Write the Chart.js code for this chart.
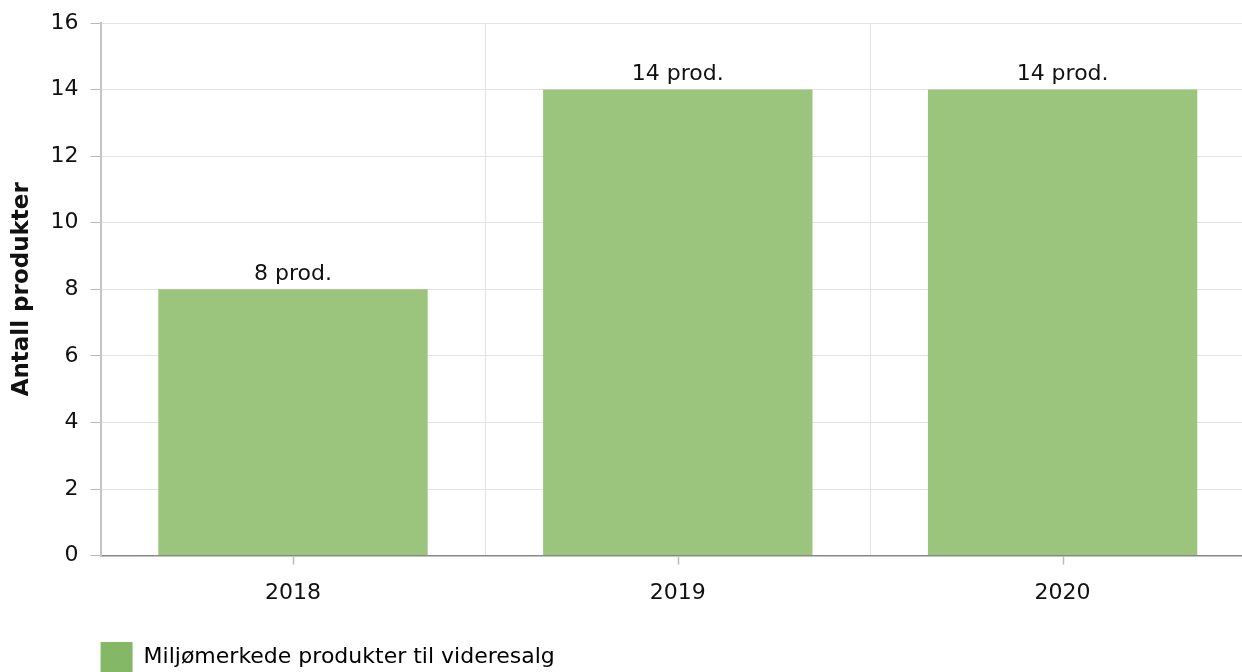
<!DOCTYPE html>
<html>
<head>
<meta charset="utf-8">
<script src="https://cdn.jsdelivr.net/npm/chart.js@4"></script>
<style>
  html, body { margin: 0; padding: 0; background: #fff; overflow: hidden; }
  #wrap { width: 1255px; height: 672px; }
</style>
</head>
<body>
<div id="wrap"><canvas id="barchart"></canvas></div>
<script>
var years = ['2018', '2019', '2020'];
var products = [8, 14, 14];
var valueLabels = ['8 prod.', '14 prod.', '14 prod.'];
var yTicks = [0, 2, 4, 6, 8, 10, 12, 14, 16];

var font = "Verdana, 'DejaVu Sans', sans-serif";
var legendPad = 12;

// labels above bars + small center ticks on the x axis
var extras = {
    id: 'extras',
    afterLayout: function(chart) {
        // legend starts under the y axis line
        var lg = chart.legend;
        var shift = chart.chartArea.left - lg.left - legendPad;
        lg.left += shift;
        lg.width -= shift;
    },
    afterDatasetsDraw: function(chart) {
        var ctx = chart.ctx;
        var meta = chart.getDatasetMeta(0);
        ctx.save();
        ctx.font = '22px ' + font;
        ctx.fillStyle = '#111';
        ctx.textAlign = 'center';
        ctx.textBaseline = 'bottom';
        meta.data.forEach(function(bar, i) {
            ctx.fillText(valueLabels[i], bar.x, bar.y - 4);
        });
        var x = chart.scales.x;
        var bottom = chart.chartArea.bottom;
        ctx.strokeStyle = '#bbb';
        ctx.lineWidth = 1.5;
        years.forEach(function(y, i) {
            var px = Math.round(x.getPixelForValue(i)) + 0.5;
            ctx.beginPath();
            ctx.moveTo(px, bottom + 1);
            ctx.lineTo(px, bottom + 9);
            ctx.stroke();
        });
        ctx.restore();
    }
};

var myChart = new Chart(document.getElementById('barchart'), {
type: 'bar',
data: {
    labels: years,
    datasets: [{
        label: 'Miljømerkede produkter til videresalg',
        data: products,
        backgroundColor: '#9bc47d',
        borderWidth: 0,
        categoryPercentage: 0.7,
        barPercentage: 1.0
    }]
},
options: {
    responsive: true,
    maintainAspectRatio: false,
    animation: false,
    layout: {
        padding: { left: 8, right: 0, top: 9, bottom: -10 }
    },
    scales: {
        x: {
            offset: true,
            grid: {
                offset: true,
                color: '#e3e3e3',
                drawTicks: false
            },
            border: { color: '#888', width: 1.5 },
            ticks: {
                color: '#111',
                font: { family: font, size: 22 },
                padding: 24
            }
        },
        y: {
            min: 0,
            max: 16,
            afterBuildTicks: function(axis) {
                axis.ticks = yTicks.map(function(v) { return { value: v }; });
            },
            grid: {
                color: '#e3e3e3',
                tickColor: '#bbb',
                tickLength: 10
            },
            border: { color: '#c4c4c4', width: 2 },
            ticks: {
                color: '#111',
                font: { family: font, size: 22, lineHeight: 1 },
                padding: 12
            },
            title: {
                display: true,
                text: 'Antall produkter',
                color: '#111',
                font: { family: font, size: 23, weight: 'bold' },
                padding: { top: 0, bottom: 3 }
            }
        }
    },
    plugins: {
        legend: {
            display: true,
            position: 'bottom',
            align: 'start',
            labels: {
                color: '#111',
                font: { family: font, size: 22 },
                boxWidth: 32,
                boxHeight: 30,
                padding: legendPad,
                generateLabels: function(chart) {
                    return [{
                        text: chart.data.datasets[0].label,
                        fillStyle: '#84b866',
                        strokeStyle: '#84b866',
                        lineWidth: 0,
                        datasetIndex: 0
                    }];
                }
            }
        },
        title: { display: false },
        tooltip: { enabled: false }
    }
},
plugins: [extras]
});
</script>
</body>
</html>
